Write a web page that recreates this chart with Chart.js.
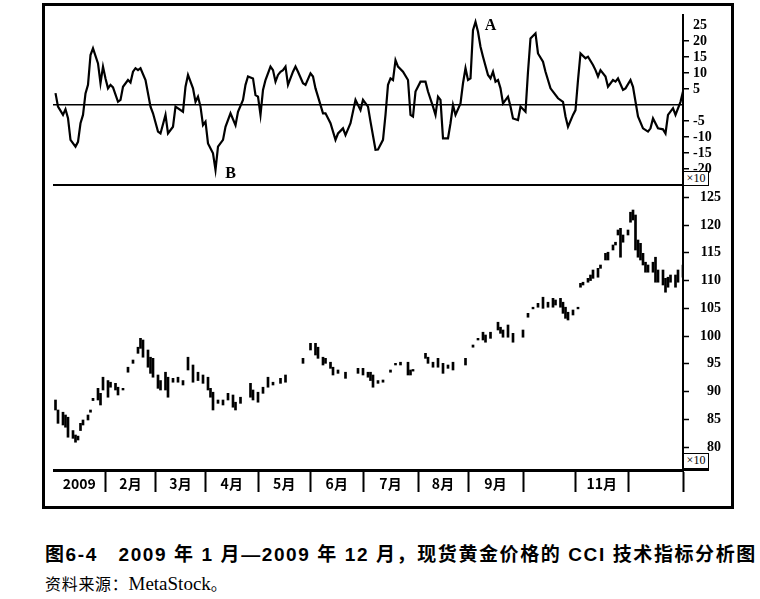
<!DOCTYPE html>
<html>
<head>
<meta charset="utf-8">
<script src="https://cdn.jsdelivr.net/npm/chart.js@4.4.0/dist/chart.umd.min.js"></script>
<style>
  body { margin: 0; background: #fff; width: 760px; height: 599px; position: relative; overflow: hidden; }
  #frame { position: absolute; left: 42px; top: 3px; width: 686px; height: 500px; border: 3px solid #000; }
  #sep { position: absolute; left: 53px; top: 184px; width: 655px; height: 2px; background: #000; }
  .x10 { position: absolute; left: 683px; width: 24px; border: 1px solid #000; background: #fff;
         font: 12px "Liberation Serif", serif; line-height: 13px; text-align: center; color: #000; }
  #x10a { top: 171px; height: 13px; }
  #x10b { top: 453px; height: 14px; border-bottom: 3px solid #000; }
  .wrap { position: absolute; left: 53px; }
  #w1 { top: 5px; }
  #w2 { top: 185px; }
  #cap1 { position: absolute; left: 45px; top: 539px; font: bold 19px "Liberation Sans", "Noto Sans CJK SC", sans-serif;
          white-space: pre; color: #000; letter-spacing: 1.6px; }
  #cap2 { position: absolute; left: 45px; top: 571px; font: 16px "Noto Sans CJK SC", serif; letter-spacing: 0.7px; color: #000; }
  #cap2 span { font-family: "Liberation Serif", serif; font-size: 19px; letter-spacing: 0; }
</style>
</head>
<body>
<div id="frame"></div>
<div class="wrap" id="w1"><canvas id="cci" width="680" height="180"></canvas></div>
<div class="wrap" id="w2"><canvas id="price" width="680" height="310"></canvas></div>
<div id="sep"></div>
<div class="x10" id="x10a">×10</div>
<div class="x10" id="x10b">×10</div>
<div id="cap1">图6-4   2009 年 1 月—2009 年 12 月，现货黄金价格的 CCI 技术指标分析图</div>
<div id="cap2">资料来源：<span>MetaStock</span>。</div>

<script>
// CCI line (trading day index, value in units of 10)
const cciDay = [1,2,4,5,6,7,9,10,11,12,13,14,15,16,18,19,20,21,22,23,24,26,27,28,30,31,32,33,34,35,37,39,40,42,43,45,46,48,49,52,
  53,54,56,57,58,59,60,61,62,64,65,66,68,69,71,73,74,76,77,78,80,81,82,83,84,85,87,88,89,90,91,92,93,94,96,97,98,100,101,103,
  104,105,106,108,109,111,113,114,116,117,119,121,123,124,126,127,129,130,132,133,134,135,136,137,138,140,142,143,144,145,147,149,150,152,
  153,154,155,156,158,159,160,161,163,164,165,166,167,168,169,170,171,172,174,175,176,177,178,179,180,182,183,184,186,187,189,190,191,193,
  194,196,197,199,200,202,204,205,206,208,209,210,211,213,214,216,217,218,219,221,222,224,225,226,228,229,231,232,234,236,238,239,240,242,
  244,245,246,248,249,251,252];
const cciValue = [3.7,-0.5,-3.1,-1.3,-4.1,-10.9,-13,-11.5,-5.7,-3.1,3.6,6.3,15.6,17.7,13,6.8,12,8.3,5.2,6.3,5.5,1,1.6,5.7,7.8,7,10.4,11.5,10.9,11.5,7.8,-0.5,-2.6,-8.3,-8.9,-3.1,-8.9,-6.8,-0.5,-2.1,
  5.7,9.4,5.2,1,2.6,-0.5,-6.3,-5.2,-12,-15.1,-20.3,-13,-10.9,-6.8,-2.6,-6.3,-2.1,1.6,6.3,8.9,8.3,3.1,2.6,-3.1,4.7,7.8,12,10.9,7.3,9.4,10.4,10.9,12,6.3,10.4,12,10.4,6.8,6.3,9.9,
  8.9,5.2,2.6,-2.6,-2.6,-5.7,-10.9,-8.9,-7.3,-9.4,-5.7,1.6,-1.6,1.6,-0.5,-5.2,-14,-13.9,-10.9,-3.1,6.3,8.3,7.8,14,12,10.4,7.8,-3.1,-3.6,4.2,7.3,7.3,4.2,-0.5,
  -3.1,2.6,1.6,-10.4,-10.4,-5.7,0,-3.1,0.5,6.8,11.5,7.8,8.3,23.4,26,22.9,18.2,15.1,9.4,8.3,10.4,7.3,7.8,5.2,0.5,2.6,-0.5,-4.2,-4.7,-0.5,-2.1,10.4,20.8,22.4,
  16.1,13.5,10.4,5.2,4.2,2.1,1,-3.6,-6.8,-3.1,-1.6,7.8,16.1,14.6,15.1,12.5,10.9,8.9,10.9,8.9,5.7,7.8,7.3,8.3,4.7,5.2,7.8,5.7,-3.6,-7.3,-8.3,-7.3,-4.2,-7.3,
  -7.6,-8.9,-3.1,-1,-3.1,1,4.2];
const cciTicks = [-20, -15, -10, -5, 0, 5, 10, 15, 20, 25];

// spot gold price bars (units of 10 USD)
const priceDay = [1,2,4,5,6,8,9,10,11,12,14,15,16,18,19,20,22,23,25,26,28,30,32,34,35,36,38,39,40,42,43,45,46,48,50,52,54,56,58,60,
  62,63,64,66,68,70,72,73,75,79,80,82,84,86,88,91,93,100,103,105,106,108,109,111,112,114,117,122,124,126,127,128,130,132,135,137,139,142,143,144,
  149,150,152,154,156,158,160,165,168,170,172,173,175,178,179,180,182,184,188,190,192,194,196,198,200,201,203,204,205,206,208,210,211,212,
  214,215,216,218,219,221,222,224,225,226,227,228,230,231,232,233,234,235,236,237,238,240,241,242,244,245,246,247,249,250,252];
const priceHigh = [88.5,86.7,86.3,85.8,85.4,83,82.2,82,84.3,84.9,85.8,86.7,88.8,90.6,89.7,92.6,92,91.7,91.5,90.8,90.6,94.4,95.7,98,99.6,99.3,97.5,96.2,96,93,92,93.5,92.6,92.4,92.6,92,96.2,94.8,93.5,93,
  92.6,90.6,89.9,88.5,88.5,89.7,89.4,88.1,89,91.5,90.3,89.9,90.8,92.6,91.7,92.4,93,96,98.7,98.7,98,96.2,96,95.3,94.4,93.9,93.5,94.2,94.2,93.5,93.5,93,92,92.1,93.9,95.1,95.3,95.3,93.9,94,
  96.9,96.2,95.3,96,95.1,94.8,95.3,96,98.4,99.6,100.7,100.2,100.7,102.5,101.6,101.1,102,100.5,101.1,104.1,105.2,105.9,107,106.1,106.8,106.5,106.8,106.1,105.2,104.3,104.7,105.2,109.5,109.7,
  110.4,111,111.9,112.2,112.8,114.9,115.1,116.4,116.9,119.1,119.4,118.2,119.1,122.3,122.7,121.8,117.3,116.7,114.9,113.3,112.8,113.3,114.2,111.9,111.9,110.4,110.6,111,111,111.9,112.8];
const priceLow = [86.7,84.3,84,83.6,81.8,81.6,80.9,81.3,83,84,84.9,86.3,88.4,88.5,87.6,90.3,89,90.8,90.3,89.4,90.3,93.5,95.1,96.9,97.8,96.2,94.4,93.3,92.6,90.6,90.3,90.3,89,91.7,91.7,91.2,93.9,91.7,92,91.5,
  90.3,89,86.7,87.9,87.6,88.5,87.2,86.7,87.9,89,88.5,88.1,89.7,90.8,91.2,91.5,91.7,95.1,97.5,96.6,96,94.8,95.1,94.2,93,93.3,92.4,93.3,93,92.6,92,90.8,91.5,91.7,93.5,94.8,94.8,93,93,93.7,
  96,95.1,94.4,94.4,93.3,94.2,93.9,94.8,98,99.3,99.3,98.9,99.6,101.1,100.5,99.8,99.8,98.9,99.8,103.4,104.9,105.2,105,105.2,105.2,105.6,105.2,104.1,103.2,102.9,103.8,104.9,108.8,109.2,
  109.7,110,110.4,110.6,112.2,113.7,113.7,115.5,116.4,118.2,114.2,116.9,118.2,120.5,120.9,115.5,114.2,113.7,112.8,111.5,111.5,111.5,109.7,109.7,109.2,107.9,108.8,109.7,108.8,109.7,110.6];
const priceTicks = [80, 85, 90, 95, 100, 105, 110, 115, 120, 125];

// month boundaries (trading day index) and month labels
const monthStart = [0, 21, 41, 61, 82, 103, 124, 146, 166, 188, 209, 230, 252];
const monthLabels = ['2009', '2月', '3月', '4月', '5月', '6月', '7月', '8月', '9月', '', '11月', ''];

// annotations on the CCI line
const notes = [
  { text: 'A', day: 169, value: 26 },
  { text: 'B', day: 65, value: -20.3 }
];

const axisFont = { family: 'Liberation Serif', weight: 'bold', size: 14 };

// keep the chart area flush with the panel edges
function fixPadding(s, w) {
  s.width = w;
  s.paddingTop = 0;
  s.paddingBottom = 0;
}

const noteText = {
  id: 'noteText',
  afterDatasetsDraw(chart) {
    const ctx = chart.ctx;
    const xs = chart.scales.x, ys = chart.scales.y;
    ctx.save();
    ctx.font = 'bold 16px "Liberation Serif"';
    ctx.fillStyle = '#000';
    ctx.textAlign = 'center';
    ctx.textBaseline = 'middle';
    notes.forEach(n => {
      ctx.fillText(n.text, xs.getPixelForValue(n.day) + 15, ys.getPixelForValue(n.value) + 4);
    });
    ctx.restore();
  }
};

new Chart(document.getElementById('cci'), {
  type: 'line',
  data: {
    datasets: [{
      data: cciDay.map((d, i) => ({ x: d, y: cciValue[i] })),
      borderColor: '#000',
      borderWidth: 2.2,
      pointRadius: 0,
      tension: 0
    }]
  },
  options: {
    responsive: false,
    animation: false,
    layout: { padding: { top: 10, right: 12, left: 0, bottom: 0 } },
    plugins: { legend: { display: false }, tooltip: { enabled: false } },
    scales: {
      x: { type: 'linear', min: 0, max: 252, display: false },
      y: {
        position: 'right',
        min: -25,
        max: 28.125,
        afterBuildTicks: s => { s.ticks = cciTicks.map(v => ({ value: v })); },
        afterFit: s => fixPadding(s, 38),
        grid: {
          color: c => (c.tick && c.tick.value === 0) ? '#000' : 'rgba(0,0,0,0)',
          lineWidth: 1.5,
          tickLength: 6,
          tickWidth: 1.5,
          tickColor: c => (c.tick && (c.tick.value === 0 || c.tick.value === 25)) ? 'rgba(0,0,0,0)' : '#000'
        },
        border: { display: true, color: '#000', width: 2 },
        ticks: {
          autoSkip: false,
          color: '#000',
          font: axisFont,
          padding: 4,
          callback: v => (v === 0 ? '' : String(v))
        }
      }
    }
  },
  plugins: [noteText]
});

const boundarySet = new Set(monthStart.slice(1));
const centerLabel = {};
monthLabels.forEach((t, i) => { centerLabel[(monthStart[i] + monthStart[i + 1]) / 2] = t; });

new Chart(document.getElementById('price'), {
  type: 'bar',
  data: {
    datasets: [{
      data: priceDay.map((d, i) => ({ x: d, y: [priceLow[i], priceHigh[i]] })),
      backgroundColor: '#000',
      borderWidth: 0,
      barThickness: 2,
      minBarLength: 1.5
    }]
  },
  options: {
    responsive: false,
    animation: false,
    layout: { padding: { top: 0, right: 12, left: 0, bottom: 0 } },
    plugins: { legend: { display: false }, tooltip: { enabled: false } },
    scales: {
      x: {
        type: 'linear',
        min: 0,
        max: 252,
        offset: false,
        afterBuildTicks: s => {
          const vals = [...boundarySet, ...Object.keys(centerLabel).map(Number)].sort((a, b) => a - b);
          s.ticks = vals.map(v => ({ value: v }));
        },
        afterFit: s => { s.height = 25; s.paddingLeft = 0; s.paddingRight = 0; },
        grid: {
          offset: false,
          drawOnChartArea: false,
          tickLength: 22,
          tickWidth: 2,
          tickColor: c => (c.tick && boundarySet.has(c.tick.value)) ? '#000' : 'rgba(0,0,0,0)'
        },
        border: { display: true, color: '#000', width: 3 },
        ticks: {
          autoSkip: false,
          maxRotation: 0,
          padding: -17,
          color: '#000',
          font: { family: 'Noto Sans CJK SC', weight: 'bold', size: 14 },
          callback: v => (centerLabel[v] !== undefined ? centerLabel[v] : '')
        }
      },
      y: {
        position: 'right',
        min: 75.9,
        max: 127.2,
        afterBuildTicks: s => { s.ticks = priceTicks.map(v => ({ value: v })); },
        afterFit: s => fixPadding(s, 38),
        grid: { drawOnChartArea: false, tickLength: 6, tickWidth: 1.5, tickColor: '#000' },
        border: { display: true, color: '#000', width: 2 },
        ticks: { autoSkip: false, color: '#000', font: axisFont, padding: 4, crossAlign: 'far' }
      }
    }
  }
});
</script>
</body>
</html>
